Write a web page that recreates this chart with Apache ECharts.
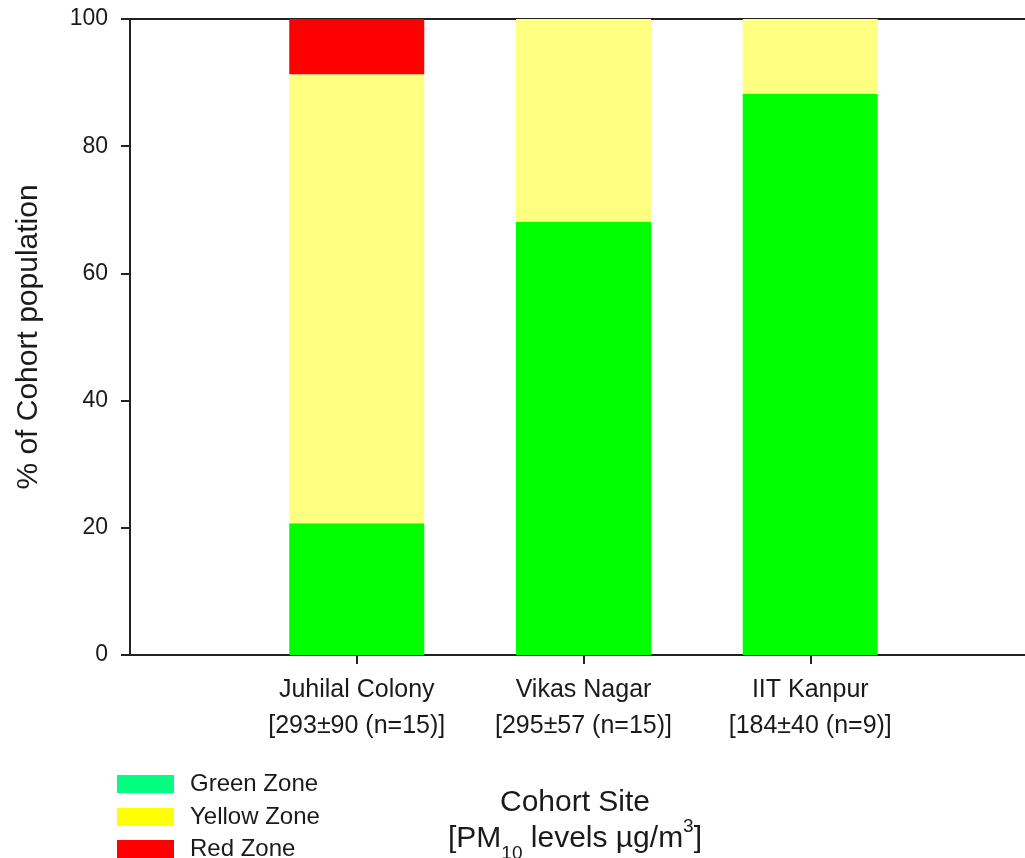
<!DOCTYPE html>
<html>
<head>
<meta charset="utf-8">
<script src="https://cdn.jsdelivr.net/npm/echarts@6/dist/echarts.min.js"></script>
<style>
  html, body { margin: 0; padding: 0; background: #fff; }
  #chart { width: 1025px; height: 858px; }
</style>
</head>
<body>
<div id="chart"></div>
<script>
// Cohort sites (PM10 mean ± sd and cohort size shown on second line)
const sites = ['Juhilal Colony', 'Vikas Nagar', 'IIT Kanpur'];
const siteStats = ['[293\u00b190 (n=15)]', '[295\u00b157 (n=15)]', '[184\u00b140 (n=9)]'];

// Share of cohort population in each zone (%)
const greenZone = [20.7, 68.1, 88.2];
const yellowZone = [70.6, 31.9, 11.8];
const redZone = [8.7, 0, 0];

const yTicks = { min: 0, max: 100, interval: 20 };

// Legend swatch colours (lighter/brighter than the bar fills)
const zoneNames = ['Green Zone', 'Yellow Zone', 'Red Zone'];
const legendColors = ['#00ff80', '#ffff00', '#ff0000'];
const barColors = ['#00ff00', '#ffff80', '#ff0000'];

// Empty slots at either end so the three sites sit at 1/4, 2/4, 3/4 of the axis
const pad = v => [null].concat(v, [null]);
const axisCats = [''].concat(sites.map((s, i) => s + '\n' + siteStats[i]), ['']);

const font = 'Liberation Sans, Arial, sans-serif';
const ink = '#1a1a1a';

// One single-entry legend per zone, stacked down the lower-left corner
const legendTops = [772, 805, 837];
const legends = zoneNames.map((name, i) => ({
  orient: 'vertical',
  left: 117, top: legendTops[i],
  padding: 0,
  itemWidth: 57, itemHeight: 18,
  icon: 'rect',
  selectedMode: false,
  textStyle: { fontSize: 24, lineHeight: 18, color: ink, fontFamily: font, padding: [0, 0, 0, 11] },
  data: [{ name: name, itemStyle: { color: legendColors[i] } }]
}));

const seriesData = [greenZone, yellowZone, redZone];

const chart = echarts.init(document.getElementById('chart'), null, { renderer: 'canvas' });

chart.setOption({
  animation: false,
  backgroundColor: '#fff',
  textStyle: { fontFamily: font, color: ink },
  grid: {
    left: 130, top: 19, width: 907, height: 636,
    outerBoundsMode: 'none',
    containLabel: false,
    show: true, borderColor: '#222', borderWidth: 2, backgroundColor: 'transparent'
  },
  legend: legends,
  title: {
    left: 570, top: 780, textAlign: 'center',
    text: '{a|Cohort Site}\n{a|[PM}{sub|10}{a| levels \u00b5g/m}{sup|3}{a|]}',
    textStyle: {
      fontFamily: font, fontWeight: 'normal',
      rich: {
        a: { fontSize: 30, lineHeight: 36, color: ink, fontFamily: font, fontWeight: 'normal' },
        sub: { fontSize: 19, lineHeight: 36, color: ink, fontFamily: font, fontWeight: 'normal', verticalAlign: 'bottom', padding: [0, 0, -6, 0] },
        sup: { fontSize: 19, lineHeight: 36, color: ink, fontFamily: font, fontWeight: 'normal', verticalAlign: 'top', padding: [-4, 0, 0, 0] }
      }
    }
  },
  xAxis: {
    type: 'category',
    data: axisCats,
    boundaryGap: false,
    axisLine: { lineStyle: { color: '#222', width: 2 } },
    axisTick: {
      show: true, length: 9, inside: false,
      interval: (i, v) => v !== '',
      lineStyle: { color: '#222', width: 2 }
    },
    axisLabel: {
      interval: 0, margin: 17, fontSize: 25, lineHeight: 36, color: ink, fontFamily: font
    },
    splitLine: { show: false }
  },
  yAxis: {
    type: 'value',
    min: yTicks.min, max: yTicks.max, interval: yTicks.interval,
    name: '% of Cohort population',
    nameLocation: 'middle',
    nameGap: 86,
    nameTextStyle: { fontSize: 30, color: ink, fontFamily: font },
    axisLine: { show: true, lineStyle: { color: '#222', width: 2 } },
    axisTick: { show: true, length: 9, inside: false, lineStyle: { color: '#222', width: 2 } },
    axisLabel: { margin: 22, fontSize: 23, color: ink, fontFamily: font },
    splitLine: { show: false }
  },
  series: zoneNames.map((name, i) => ({
    name: name, type: 'bar', stack: 'zone', barWidth: 135,
    itemStyle: { color: barColors[i] }, data: pad(seriesData[i])
  }))
});
</script>
</body>
</html>
